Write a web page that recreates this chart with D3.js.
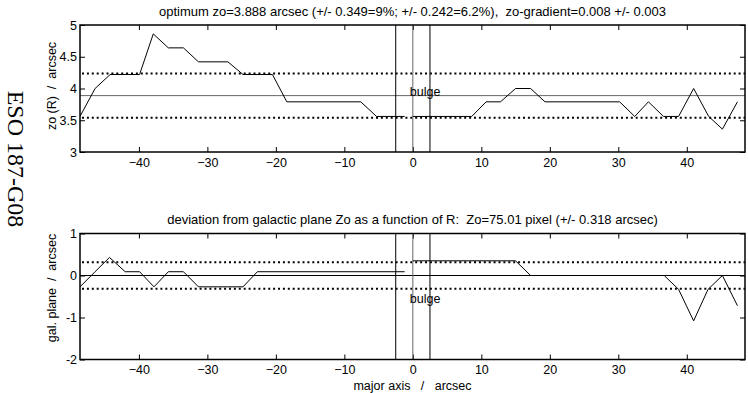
<!DOCTYPE html>
<html><head><meta charset="utf-8">
<script src="https://cdn.jsdelivr.net/npm/d3@7/dist/d3.min.js"></script>
<style>
html,body{margin:0;padding:0;background:#fff;}
svg text{font-family:"Liberation Sans",Arial,sans-serif;white-space:pre;}
</style></head>
<body><svg id="c" width="748" height="393"></svg>
<script>
// ---- data ----
const galaxyName = "ESO 187-G08";
const topTitle = "optimum zo=3.888 arcsec (+/- 0.349=9%; +/- 0.242=6.2%),  zo-gradient=0.008 +/- 0.003";
const botTitle = "deviation from galactic plane Zo as a function of R:  Zo=75.01 pixel (+/- 0.318 arcsec)";
const topYLabel = "zo (R)  /  arcsec";
const botYLabel = "gal. plane  /  arcsec";
const xLabel = "major axis   /   arcsec";
const xTicks = [-40, -30, -20, -10, 0, 10, 20, 30, 40];
const topYTicks = [3, 3.5, 4, 4.5, 5];
const botYTicks = [-2, -1, 0, 1];
const zoOpt = 3.888, zoErr = 0.349;
const planeErr = 0.318;
const bulgeLines = [-2.5, 0, 2.5];

const topLeftR = [-48.6, -46.4, -44.2, -39.9, -37.9, -35.7, -33.5, -31.3, -27.0, -24.8, -20.5, -18.4, -7.6, -5.3, -1.2];
const topLeftZ = [3.56, 4.0, 4.22, 4.22, 4.86, 4.64, 4.64, 4.42, 4.42, 4.22, 4.22, 3.79, 3.79, 3.56, 3.56];
const topRightR = [0, 8.6, 10.7, 12.8, 15.0, 17.2, 19.3, 30.2, 32.4, 34.4, 36.6, 38.8, 41.0, 43.2, 45.2, 47.4];
const topRightZ = [3.56, 3.56, 3.79, 3.79, 4.0, 4.0, 3.79, 3.79, 3.56, 3.79, 3.56, 3.56, 4.0, 3.56, 3.36, 3.79];

const botLeftR = [-48.6, -46.4, -44.3, -42.0, -39.9, -37.8, -35.7, -33.5, -31.3, -24.8, -22.7, -1.2];
const botLeftZ = [-0.27, 0.09, 0.43, 0.09, 0.09, -0.27, 0.09, 0.09, -0.27, -0.27, 0.09, 0.09];
const botRightR = [0, 15.0, 17.2, 36.7, 38.8, 41.0, 43.1, 45.2, 47.4];
const botRightZ = [0.35, 0.35, 0.0, 0.0, -0.33, -1.08, -0.33, 0.0, -0.72];

// ---- layout ----
const svg = d3.select("#c");
const L = 80, R = 745;
const FS = 12.5;
const x = d3.scaleLinear().domain([-48.6, 48.5]).range([L, R]);
const panels = [
  {y: d3.scaleLinear().domain([3, 5]).range([152, 25]), yTicks: topYTicks,
   title: topTitle, ylabel: topYLabel, ylabelY: 86,
   series: [[topLeftR, topLeftZ], [topRightR, topRightZ]],
   mid: zoOpt, band: [zoOpt - zoErr, zoOpt + zoErr], midColor: "#666", bulgeY: zoOpt, bulgeDy: 0, xlabel: null},
  {y: d3.scaleLinear().domain([-2, 1]).range([359.5, 233.5]), yTicks: botYTicks,
   title: botTitle, ylabel: botYLabel, ylabelY: 288,
   series: [[botLeftR, botLeftZ], [botRightR, botRightZ]],
   mid: 0, band: [-planeErr, planeErr], midColor: "#000", bulgeY: -planeErr, bulgeDy: 14, xlabel: xLabel}
];

panels.forEach((p, i) => {
  const y = p.y;
  const T = y.range()[1], B = y.range()[0];
  const g = svg.append("g");
  const cid = "clip" + i;
  svg.append("clipPath").attr("id", cid).append("rect")
    .attr("x", L).attr("y", T).attr("width", R - L).attr("height", B - T);

  // title
  g.append("text").attr("x", (L + R) / 2).attr("y", T - 9.5).attr("text-anchor", "middle")
    .attr("font-size", 13).text(p.title);

  // axes with inward ticks
  const axB = d3.axisBottom(x).tickValues(xTicks).tickSize(-5).tickPadding(6).tickFormat(d3.format("d"));
  const axT = d3.axisTop(x).tickValues(xTicks).tickSize(-5).tickFormat("");
  const axL = d3.axisLeft(y).tickValues(p.yTicks).tickSize(-5).tickPadding(3).tickFormat(d => String(d));
  const axR = d3.axisRight(y).tickValues(p.yTicks).tickSize(-5).tickFormat("");
  [[axB, `translate(0,${B})`], [axT, `translate(0,${T})`], [axL, `translate(${L},0)`], [axR, `translate(${R},0)`]]
    .forEach(([ax, tr]) => {
      const a = g.append("g").attr("transform", tr).call(ax);
      a.select(".domain").remove();
      a.selectAll("line").attr("stroke", "#000").attr("stroke-width", 1);
      a.selectAll("text").attr("font-size", FS).attr("fill", "#000")
        .style("font-family", '"Liberation Sans",Arial,sans-serif');
    });

  // y label
  g.append("text").attr("transform", `translate(${L - 24},${p.ylabelY}) rotate(-90)`)
    .attr("text-anchor", "middle").attr("font-size", FS).text(p.ylabel);

  // reference lines
  const inner = g.append("g").attr("clip-path", `url(#${cid})`);
  inner.append("line").attr("x1", L).attr("x2", R).attr("y1", y(p.mid)).attr("y2", y(p.mid))
    .attr("stroke", p.midColor).attr("stroke-width", 1);
  p.band.forEach(v => {
    inner.append("line").attr("x1", L + 2).attr("x2", R).attr("y1", y(v)).attr("y2", y(v))
      .attr("stroke", "#000").attr("stroke-width", 2).attr("stroke-dasharray", "2,2.9");
  });
  bulgeLines.forEach(v => {
    inner.append("line").attr("x1", x(v)).attr("x2", x(v)).attr("y1", T).attr("y2", B)
      .attr("stroke", v === 0 ? "#666" : "#000").attr("stroke-width", 1);
  });
  inner.append("text").attr("x", x(0) - 3).attr("y", y(p.bulgeY) + p.bulgeDy)
    .attr("font-size", FS).text("bulge");

  // data
  const line = d3.line().x(d => x(d[0])).y(d => y(d[1]));
  p.series.forEach(([rs, zs]) => {
    inner.append("path").datum(rs.map((r, k) => [r, zs[k]]))
      .attr("d", line).attr("fill", "none").attr("stroke", "#000").attr("stroke-width", 1);
  });

  // frame
  g.append("rect").attr("x", L).attr("y", T).attr("width", R - L).attr("height", B - T)
    .attr("fill", "none").attr("stroke", "#000").attr("stroke-width", 1.5);

  if (p.xlabel) {
    g.append("text").attr("x", (L + R) / 2).attr("y", B + 30).attr("text-anchor", "middle")
      .attr("font-size", FS).text(p.xlabel);
  }
});

// galaxy name
svg.append("text").attr("transform", "translate(8,159) rotate(90)")
  .attr("text-anchor", "middle").attr("font-size", 24)
  .style("font-family", '"Liberation Serif","Times New Roman",serif')
  .text(galaxyName);
</script></body></html>
